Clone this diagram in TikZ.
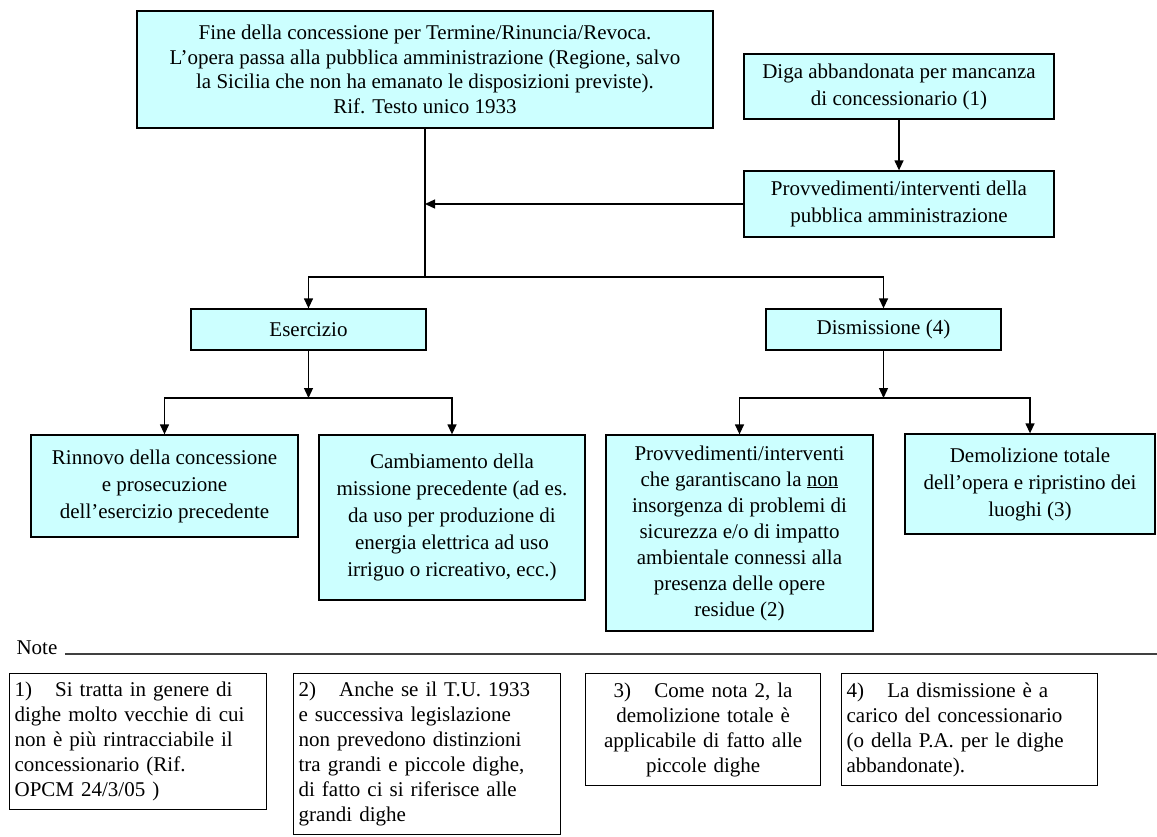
\documentclass[tikz,border=0pt]{standalone}
\usepackage{fontspec}
\setmainfont{Liberation Serif}
\usetikzlibrary{arrows.meta}
\definecolor{boxcyan}{RGB}{204,255,255}

\begin{document}
\begin{tikzpicture}[x=1pt,y=-1pt,
	box/.style={draw=black,fill=boxcyan,line width=1.3pt,align=center,inner sep=2pt,
		font=\fontsize{21}{27}\selectfont},
	notebox/.style={draw=black,line width=1.3pt,anchor=north west,inner sep=5pt,
		font=\fontsize{21}{25}\selectfont},
	arr/.style={-{Triangle[length=10pt,width=9pt]},line width=1.3pt},
	link/.style={line width=1.3pt}]

		\clip (0,0) rectangle (1157,836);
		\fill[white] (0,0) rectangle (1157,836);

		\node[box,minimum width=576pt,minimum height=117pt,font=\fontsize{21}{24.5}\selectfont] (Fine) at (425,69.5) {Fine della concessione per Termine/Rinuncia/Revoca.\\L’opera passa alla pubblica amministrazione (Regione, salvo\\la Sicilia che non ha emanato le disposizioni previste).\\Rif. Testo unico 1933};

		\node[box,minimum width=310pt,minimum height=65pt] (Diga) at (899,86.5) {Diga abbandonata per mancanza\\di concessionario (1)};
		\node[box,minimum width=310pt,minimum height=66pt] (ProvvPA) at (899,204) {Provvedimenti/interventi della\\pubblica amministrazione};

        \coordinate (Split) at (425,277);

        \node[box,minimum width=235pt,minimum height=41pt] (Esercizio) at (308.5,329.5) {Esercizio};
        \node[box,minimum width=235pt,minimum height=41pt] (Dismissione) at (883.5,329.5) {Dismissione (4)};

        \coordinate (EsSplit) at (308.5,398);
        \coordinate (DiSplit) at (883.5,398);

        \node[box,minimum width=267pt,minimum height=102pt] (Rinnovo) at (164.5,486) {Rinnovo della concessione\\e prosecuzione\\dell’esercizio precedente};
        \node[box,minimum width=266pt,minimum height=165pt] (Cambio) at (452,517.5) {Cambiamento della\\missione precedente (ad es.\\da uso per produzione di\\energia elettrica ad uso\\irriguo o ricreativo, ecc.)};
        %% residual works kept in place
        \node[box,minimum width=267pt,minimum height=196pt,font=\fontsize{21}{26}\selectfont] (ProvvInt) at (739.5,533) {Provvedimenti/interventi\\che garantiscano la \underline{non}\\insorgenza di problemi di\\sicurezza e/o di impatto\\ambientale connessi alla\\presenza delle opere\\residue (2)};
        \node[box,minimum width=250pt,minimum height=100pt] (Demolizione) at (1030,484) {Demolizione totale\\dell’opera e ripristino dei\\luoghi (3)};

		\draw[link] (Fine.south) to (Split);
		\draw[arr] (ProvvPA.west) to (ProvvPA.west -| Split);
		\draw[arr] (Diga) to (ProvvPA);

		\draw[arr] (Split) -| (Esercizio.north);
		\draw[arr] (Split) -| (Dismissione.north);

		\draw[arr] (Esercizio.south) to (EsSplit);
		\draw[arr] (EsSplit) -| (Rinnovo.north);
		\draw[arr] (EsSplit) -| (Cambio.north);

		\draw[arr] (Dismissione.south) to (DiSplit);
		\draw[arr] (DiSplit) -| (ProvvInt.north);
		\draw[arr] (DiSplit) -| (Demolizione.north);

        %%% Notes
        \node[anchor=base west,font=\fontsize{21}{25}\selectfont] (NoteLbl) at (13,654) {Note};
        \coordinate (NoteEnd) at (1157,654);
        \draw[line width=1.8pt,draw=black!75] ([xshift=4pt]NoteLbl.base east) to (NoteEnd);

        \node[notebox,minimum width=257pt,minimum height=136pt,text width=247pt,align=left] (Nota1) at (9,673) {1)\hspace{1.1em}Si tratta in genere di\\dighe molto vecchie di cui\\non è più rintracciabile il\\concessionario (Rif.\\OPCM 24/3/05 )};
        \node[notebox,minimum width=267pt,minimum height=161pt,text width=257pt,align=left] (Nota2) at (293,673) {2)\hspace{1.1em}Anche se il T.U. 1933\\e successiva legislazione\\non prevedono distinzioni\\tra grandi e piccole dighe,\\di fatto ci si riferisce alle\\grandi dighe};
        \node[notebox,minimum width=235pt,minimum height=112pt,text width=225pt,align=center] (Nota3) at (585,673) {3)\hspace{1.1em}Come nota 2, la\\demolizione totale è\\applicabile di fatto alle\\piccole dighe};
        \node[notebox,minimum width=256pt,minimum height=112pt,text width=246pt,align=left] (Nota4) at (841,673) {4)\hspace{1.1em}La dismissione è a\\carico del concessionario\\(o della P.A. per le dighe\\abbandonate).};
	\end{tikzpicture}
\end{document}
